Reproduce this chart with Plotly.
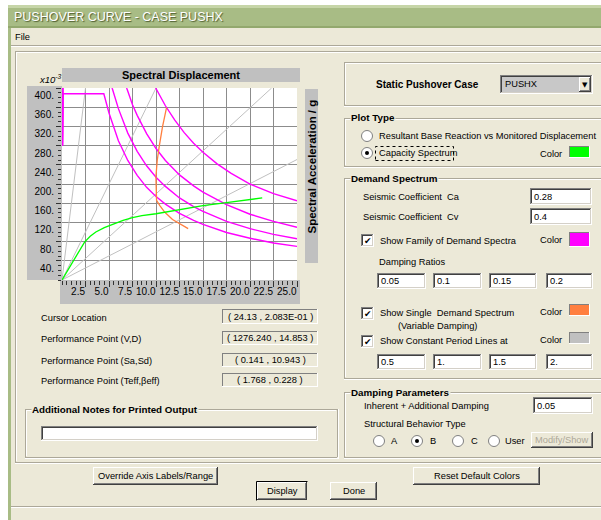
import plotly.graph_objects as go

# ---------------- chart data ----------------
# Spectral displacement Sd (cm) against spectral acceleration Sa (x10^-3 g)
capacity_sd = [0.0, 0.8, 1.6, 2.4, 3.0, 3.6, 4.5, 5.5, 6.5, 7.5, 8.5, 10.0, 12.5, 15.0, 17.5, 20.0, 21.3]
capacity_sa = [0, 27, 54, 79, 91, 100, 109, 117, 124, 130, 134, 138, 147, 155, 161, 167, 171]

damping_ratios = ["0.05", "0.1", "0.15", "0.2"]
demand_sd_05 = [0.05, 0.12, 5.7, 8.0, 10.0, 11.0, 12.0, 13.0, 14.0, 15.0, 16.5, 18.0, 20.0, 22.5, 25.0]
demand_sa_05 = [280, 700, 700, 500, 399, 363, 333, 307, 285, 266, 242, 222, 200, 180, 165]
demand_sd_10 = [0.05, 0.12, 5.1, 6.0, 6.9, 7.5, 8.0, 9.0, 10.0, 11.0, 12.5, 14.0, 15.0, 17.5, 20.0, 22.5, 25.0]
demand_sa_10 = [280, 540, 540, 457, 399, 365, 343, 305, 274, 249, 219, 196, 183, 157, 137, 122, 110]
demand_sd_15 = [0.05, 0.12, 4.8, 5.35, 6.0, 7.0, 8.0, 9.0, 10.0, 11.0, 12.5, 14.0, 15.0, 17.5, 20.0, 22.5, 25.0]
demand_sa_15 = [280, 450, 450, 399, 357, 306, 268, 238, 214, 195, 171, 153, 143, 122, 107, 95, 86]
demand_sd_20 = [0.05, 0.12, 4.45, 5.0, 6.0, 7.0, 8.0, 9.0, 10.0, 11.0, 12.5, 14.0, 15.0, 17.5, 20.0, 22.5, 25.0]
demand_sa_20 = [280, 388, 388, 348, 290, 249, 218, 193, 174, 158, 139, 124, 116, 99, 87, 77, 70]

variable_sd = [11.12, 10.69, 10.34, 10.13, 9.99, 9.99, 10.06, 10.41, 10.94, 11.76, 12.89, 13.42]
variable_sa = [359, 319, 278, 249, 215, 180, 166, 155, 141, 126, 112, 107]

period_values = ["0.5", "1.", "1.5", "2."]
period_sd_end = [2.5, 10.0, 22.3, 25.0]
period_sa_end = [400, 400, 400, 251]

x_ticks = [2.5, 5.0, 7.5, 10.0, 12.5, 15.0, 17.5, 20.0, 22.5, 25.0]
x_tick_text = ["2.5", "5.0", "7.5", "10.0", "12.5", "15.0", "17.5", "20.0", "22.5", "25.0"]
y_ticks = [40, 80, 120, 160, 200, 240, 280, 320, 360, 400]
y_tick_text = ["40.", "80.", "120.", "160.", "200.", "240.", "280.", "320.", "360.", "400."]

info_labels = ["Cursor Location", "Performance Point (V,D)",
               "Performance Point (Sa,Sd)", "Performance Point (Teff,\u03b2eff)"]
info_values = ["( 24.13 , 2.083E-01 )", "( 1276.240 , 14.853 )",
               "( 0.141 , 10.943 )", "( 1.768 , 0.228 )"]

# ---------------- page geometry helpers ----------------
W, H = 601, 520
BG = "#ece9d8"
SILVER = "#c0c0c0"
ETCH = "#aca899"
SANS = "Liberation Sans, Arial, sans-serif"
UI = 9.3          # dialog text size
UIB = 9.8         # group caption size
GREEN, MAGENTA, ORANGE, GRAY = "#00ff00", "#ff00ff", "#ff7f3f", "#c0c0c0"

shapes, annots = [], []


def px(x):
    return x / W


def py(y):
    return 1 - y / H


def box(x0, y0, x1, y1, fill):
    shapes.append(dict(type="rect", xref="paper", yref="paper", layer="below",
                       x0=px(x0), x1=px(x1), y0=py(y1), y1=py(y0),
                       fillcolor=fill, line=dict(width=0)))


def seg(x0, y0, x1, y1, color, width=1, dash=None):
    ln = dict(color=color, width=width)
    if dash:
        ln["dash"] = dash
    shapes.append(dict(type="line", xref="paper", yref="paper", layer="below",
                       x0=px(x0), x1=px(x1), y0=py(y0), y1=py(y1), line=ln))


def hl(x0, x1, y, color, width=1):
    seg(x0, y + 0.5, x1, y + 0.5, color, width)


def vl(x, y0, y1, color, width=1):
    seg(x + 0.5, y0, x + 0.5, y1, color, width)


def text(x, y, s, size=UI, color="black", anchor="left", family=SANS,
         angle=0, bg=None, shadow=None):
    f = dict(size=size, color=color, family=family)
    if shadow:
        f["shadow"] = shadow
    a = dict(xref="paper", yref="paper", x=px(x), y=py(y), text=s,
             showarrow=False, xanchor=anchor, yanchor="middle",
             font=f, textangle=angle, borderpad=0)
    if bg:
        a["bgcolor"] = bg
    annots.append(a)


def etched(x0, y0, x1, y1):
    hl(x0, x1, y0, ETCH); vl(x0, y0, y1, ETCH)
    hl(x0, x1, y1, ETCH); vl(x1, y0, y1, ETCH)
    hl(x0 + 1, x1 - 1, y0 + 1, "white"); vl(x0 + 1, y0 + 1, y1 - 1, "white")
    hl(x0, x1 + 1, y1 + 1, "white"); vl(x1 + 1, y0, y1 + 2, "white")


def group(x0, y0, x1, y1, title=None):
    etched(x0, y0, x1, y1)
    if title:
        text(x0 + 6, y0, "<b>" + title + "</b>", size=UIB, bg=BG)


def sunken(x0, y0, x1, y1, fill="white"):
    box(x0, y0, x1, y1, fill)
    hl(x0, x1, y0, "#808080"); vl(x0, y0, y1, "#808080")
    hl(x0 + 1, x1 - 1, y0 + 1, "#404040"); vl(x0 + 1, y0 + 1, y1 - 1, "#404040")
    hl(x0, x1, y1 - 1, "white"); vl(x1 - 1, y0, y1, "white")
    hl(x0 + 1, x1 - 1, y1 - 2, "#d4d0c8"); vl(x1 - 2, y0 + 1, y1 - 1, "#d4d0c8")


def thin_sunken(x0, y0, x1, y1, fill=BG):
    box(x0, y0, x1, y1, fill)
    hl(x0, x1, y0, "#808080"); vl(x0, y0, y1, "#808080")
    hl(x0, x1, y1 - 1, "white"); vl(x1 - 1, y0, y1, "white")


def textbox(x0, y0, x1, y1, value):
    sunken(x0, y0, x1, y1)
    text(x0 + 3, (y0 + y1) / 2, value)


def raised(x0, y0, x1, y1):
    box(x0, y0, x1, y1, BG)
    hl(x0, x1, y0, "white"); vl(x0, y0, y1, "white")
    hl(x0, x1, y1 - 1, "#404040"); vl(x1 - 1, y0, y1, "#404040")
    hl(x0 + 1, x1 - 2, y1 - 2, "#808080"); vl(x1 - 2, y0 + 1, y1 - 1, "#808080")


def button(x0, y0, x1, y1, label, color="black", default=False):
    raised(x0, y0, x1, y1)
    if default:
        seg(x0 - 0.5, y0 - 0.5, x1 + 0.5, y0 - 0.5, "black")
        seg(x0 - 0.5, y0 - 0.5, x0 - 0.5, y1 + 0.5, "black")
    text((x0 + x1) / 2, (y0 + y1) / 2, label, color=color, anchor="center")


def swatch(x0, y0, x1, y1, color):
    box(x0, y0, x1, y1, color)
    hl(x0, x1, y0, "#808080"); vl(x0, y0, y1, "#808080")
    hl(x0, x1, y1 - 1, "white"); vl(x1 - 1, y0, y1, "white")


def checkbox(cx, cy, checked=True):
    sunken(cx - 6, cy - 6, cx + 7, cy + 7)
    if checked:
        text(cx + 0.5, cy + 0.5, "\u2714", size=9, anchor="center", family="DejaVu Sans")


def radio(cx, cy, selected=False):
    shapes.append(dict(type="circle", xref="paper", yref="paper", layer="below",
                       x0=px(cx - 5.5), x1=px(cx + 5.5), y0=py(cy + 5.5), y1=py(cy - 5.5),
                       fillcolor="white", line=dict(color="#808080", width=1)))
    if selected:
        shapes.append(dict(type="circle", xref="paper", yref="paper", layer="below",
                           x0=px(cx - 2), x1=px(cx + 2), y0=py(cy + 2), y1=py(cy - 2),
                           fillcolor="black", line=dict(width=0)))


# ---------------- window chrome ----------------
box(8, 5, 601, 520, BG)
box(8, 5, 601, 28, "#a8bc85")
box(8, 5, 601, 8, "#c6d5a8")
box(8, 26, 601, 28, "#93a86e")
box(8, 28, 11, 520, "#a8bc85")
text(13, 17, "PUSHOVER CURVE - CASE PUSHX", size=12.5, color="white",
     shadow="1px 1px 1px #4d5c2e")
text(14, 37, "File")
hl(11, 601, 45, ETCH)
hl(11, 601, 46, "white")

# main panel and bottom separator
etched(15, 51, 606, 462)
hl(11, 601, 506, ETCH)
hl(11, 601, 507, "white")

# ---------------- chart surround ----------------
box(27, 86, 62, 280, SILVER)     # y tick label panel
box(60, 280, 300, 304, SILVER)   # x tick label panel
box(62, 68, 300, 82, SILVER)     # title panel
box(305, 89, 318, 263, SILVER)   # side title panel
box(62, 88, 297, 280, "white")   # plotting surface
text(181, 75, "<b>Spectral Displacement</b>", size=11, anchor="center")
text(311.5, 167, "<b>Spectral Acceleration / g</b>", size=11.5, angle=-90,
     anchor="center")
text(51, 79, "<i>x10<sup>-3</sup></i>", size=9.5, anchor="center")

# ---------------- left panel info ----------------
info_rows = [(309, 324), (331, 345), (353, 367), (373, 387)]
for lab, val, (y0, y1) in zip(info_labels, info_values, info_rows):
    text(40, (y0 + y1) / 2 + 1, lab)
    thin_sunken(222, y0, 318, y1)
    text(270, (y0 + y1) / 2, val, anchor="center")

group(25, 409, 337, 457, "Additional Notes for Printed Output")
sunken(41, 426, 318, 441)

# ---------------- right column ----------------
group(344, 62, 606, 105)
text(375, 85, "<b>Static Pushover Case</b>", size=10)
sunken(500, 75, 593, 94, fill="#c8c8c8")
text(504, 84.5, "PUSHX")
raised(579, 77, 591, 92)
text(585, 85, "\u25bc", size=7, anchor="center", family="DejaVu Sans")

group(344, 118, 606, 166, "Plot Type")
radio(367, 136)
text(378, 136, "Resultant Base Reaction vs Monitored Displacement")
radio(367, 153, selected=True)
text(378, 153, "Capacity Spectrum")
shapes.append(dict(type="rect", xref="paper", yref="paper", layer="below",
                   x0=px(375.5), x1=px(453.5), y0=py(160.5), y1=py(146.5),
                   line=dict(color="black", width=1, dash="dot")))
text(539, 154, "Color")
swatch(569, 146, 590, 158, GREEN)

group(344, 178, 606, 378, "Demand Spectrum")
text(362, 197, "Seismic Coefficient  Ca")
textbox(530, 188, 592, 205, "0.28")
text(362, 217, "Seismic Coefficient  Cv")
textbox(530, 208, 592, 225, "0.4")
checkbox(367, 240)
text(379, 241, "Show Family of Demand Spectra")
text(539, 240, "Color")
swatch(569, 232, 590, 247, MAGENTA)
text(378, 262, "Damping Ratios")
col_x = [(377, 426), (433, 482), (489, 537), (546, 593)]
for (x0, x1), v in zip(col_x, damping_ratios):
    textbox(x0, 273, x1, 289, v)
checkbox(367, 313)
text(379, 313, "Show Single  Demand Spectrum")
text(397, 326, "(Variable Damping)")
text(539, 312, "Color")
swatch(569, 304, 590, 316, ORANGE)
checkbox(367, 341)
text(379, 341, "Show Constant Period Lines at")
text(539, 340, "Color")
swatch(569, 332, 590, 344, GRAY)
for (x0, x1), v in zip(col_x, period_values):
    textbox(x0, 354, x1, 370, v)

group(344, 392, 606, 457, "Damping Parameters")
text(363, 406, "Inherent + Additional Damping")
textbox(533, 397, 593, 414, "0.05")
text(363, 424, "Structural Behavior Type")
for cx, tx, lab, sel in [(379, 390, "A", False), (417, 429, "B", True),
                         (458, 470, "C", False), (494, 504, "User", False)]:
    radio(cx, 441, sel)
    text(tx, 441, lab)
button(531, 432, 593, 448, "Modify/Show", color="#aca899")

# ---------------- bottom buttons ----------------
button(93, 467, 218, 485, "Override Axis Labels/Range")
button(413, 467, 540, 485, "Reset Default Colors")
button(257, 482, 307, 500, "Display", default=True)
button(330, 482, 377, 500, "Done")

# ---------------- traces ----------------
fig = go.Figure()
for sd_end, sa_end in zip(period_sd_end, period_sa_end):
    fig.add_trace(go.Scatter(x=[0, sd_end], y=[0, sa_end], mode="lines",
                             line=dict(color=GRAY, width=1)))
for sd, sa in [(demand_sd_05, demand_sa_05), (demand_sd_10, demand_sa_10),
               (demand_sd_15, demand_sa_15), (demand_sd_20, demand_sa_20)]:
    fig.add_trace(go.Scatter(x=sd, y=sa, mode="lines",
                             line=dict(color=MAGENTA, width=1.4)))
fig.add_trace(go.Scatter(x=variable_sd, y=variable_sa, mode="lines",
                         line=dict(color=ORANGE, width=1.3)))
fig.add_trace(go.Scatter(x=capacity_sd, y=capacity_sa, mode="lines",
                         line=dict(color=GREEN, width=1.3)))

axis_font = dict(family=SANS, size=10, color="black")
fig.update_layout(
    width=W, height=H, autosize=False,
    margin=dict(l=0, r=0, t=0, b=0),
    paper_bgcolor="white", plot_bgcolor="white",
    showlegend=False, hovermode=False,
    shapes=shapes, annotations=annots,
    xaxis=dict(domain=[px(62), px(297)], range=[0, 25], tickvals=x_ticks,
               ticktext=x_tick_text, ticks="outside", ticklen=6, tickcolor="#333",
               ticklabelposition="outside left", tickangle=0, tickfont=axis_font,
               ticklabelstandoff=2,
               showgrid=True, gridcolor="#8c8c8c", gridwidth=1, zeroline=False,
               showline=False, fixedrange=True,
               minor=dict(dtick=0.5, ticks="outside", ticklen=4, tickcolor="#333",
                          showgrid=False)),
    yaxis=dict(domain=[py(280), py(88)], range=[0, 400], tickvals=y_ticks,
               ticktext=y_tick_text, ticks="outside", ticklen=5, tickcolor="#333",
               ticklabelposition="outside bottom", tickfont=axis_font,
               ticklabelstandoff=5,
               showgrid=True, gridcolor="#8c8c8c", gridwidth=1, zeroline=False,
               showline=False, fixedrange=True,
               minor=dict(dtick=10, ticks="outside", ticklen=3, tickcolor="#333",
                          showgrid=False)),
)

fig.write_html("out.html")
